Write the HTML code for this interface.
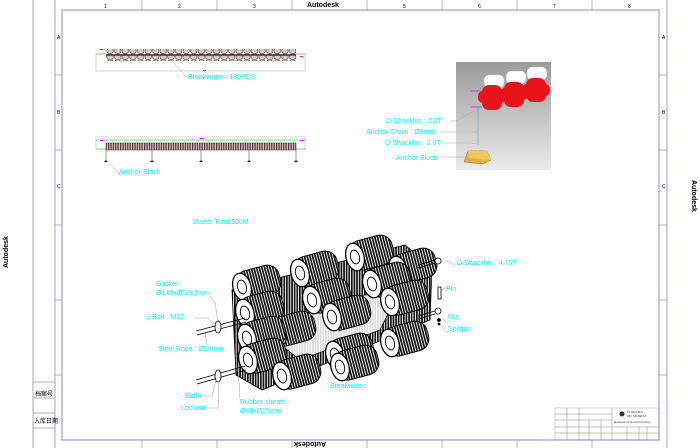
<!DOCTYPE html>
<html><head><meta charset="utf-8"><style>
html,body{margin:0;padding:0;background:#fff;width:700px;height:448px;overflow:hidden}
svg{display:block}
text{font-family:"Liberation Sans","Noto Sans CJK SC",sans-serif}
.c{fill:#10e8f8;font-size:7px}
.t{fill:#000;font-size:5px}
</style></head><body>
<svg width="700" height="448" viewBox="0 0 700 448" xmlns="http://www.w3.org/2000/svg">
<defs>
<pattern id="rib" width="2.6" height="10" patternUnits="userSpaceOnUse">
<rect width="2.6" height="10" fill="#fff"/><rect width="1.7" height="10" fill="#111"/>
</pattern>
<pattern id="rib2" width="7.6" height="12" patternUnits="userSpaceOnUse">
<rect width="7.6" height="12" fill="#fff"/><rect x="0.5" y="0" width="6.5" height="5.5" rx="2.5" fill="#d8c8c8" stroke="#5a3030" stroke-width="0.6"/><rect x="0.5" y="6" width="6.5" height="5.5" rx="2.5" fill="#d8c8c8" stroke="#5a3030" stroke-width="0.6"/>
</pattern>
<pattern id="rib3" width="2.4" height="4" patternUnits="userSpaceOnUse">
<rect width="2.4" height="4" fill="#d8c8c8"/><rect width="1.2" height="4" fill="#5a3030"/>
</pattern>
<linearGradient id="bg" x1="0" y1="0" x2="0" y2="1"><stop offset="0" stop-color="#9a9a9a"/><stop offset="1" stop-color="#ececec"/></linearGradient>
<g id="drum">
<rect x="-5" y="-15" width="44" height="30" rx="12" fill="url(#rib)" stroke="#000" stroke-width="1"/>
<ellipse cx="0" cy="0" rx="9" ry="14" fill="#fff" stroke="#000" stroke-width="1.3"/>
<ellipse cx="0" cy="0" rx="4.5" ry="7" fill="#fff" stroke="#000" stroke-width="0.9"/>
</g>
</defs>
<g fill="none" stroke="#b4b4f2" stroke-width="1.3">
<rect x="33" y="-2" width="634" height="460"/>
<rect x="62" y="10" width="597" height="430" stroke-width="1.6"/>
<line x1="55" y1="-2" x2="55" y2="448"/>
</g>
<g stroke="#999" stroke-width="0.7">
<line x1="142" y1="0" x2="142" y2="10"/><line x1="217" y1="0" x2="217" y2="10"/><line x1="292" y1="0" x2="292" y2="10"/>
<line x1="367" y1="0" x2="367" y2="10"/><line x1="442" y1="0" x2="442" y2="10"/><line x1="517" y1="0" x2="517" y2="10"/><line x1="592" y1="0" x2="592" y2="10"/>
<line x1="142" y1="440" x2="142" y2="448"/><line x1="217" y1="440" x2="217" y2="448"/><line x1="292" y1="440" x2="292" y2="448"/>
<line x1="367" y1="440" x2="367" y2="448"/><line x1="442" y1="440" x2="442" y2="448"/><line x1="517" y1="440" x2="517" y2="448"/><line x1="592" y1="440" x2="592" y2="448"/>
<line x1="55" y1="75" x2="62" y2="75"/><line x1="55" y1="150" x2="62" y2="150"/><line x1="55" y1="225" x2="62" y2="225"/><line x1="55" y1="300" x2="62" y2="300"/><line x1="55" y1="375" x2="62" y2="375"/>
<line x1="659" y1="75" x2="667" y2="75"/><line x1="659" y1="150" x2="667" y2="150"/><line x1="659" y1="225" x2="667" y2="225"/><line x1="659" y1="300" x2="667" y2="300"/><line x1="659" y1="375" x2="667" y2="375"/>
<line x1="33" y1="382" x2="55" y2="382"/><line x1="33" y1="398" x2="55" y2="398"/><line x1="33" y1="413" x2="55" y2="413"/><line x1="33" y1="428" x2="55" y2="428"/>
</g>
<g class="t" font-size="5">
<text x="104" y="8">1</text><text x="178" y="8">2</text><text x="253" y="8">3</text><text x="403" y="8">5</text><text x="478" y="8">6</text><text x="553" y="8">7</text><text x="628" y="8">8</text>
<text x="57" y="39">A</text><text x="57" y="114">B</text><text x="57" y="188">C</text>
<text x="662" y="39">A</text><text x="662" y="114">B</text><text x="662" y="188">C</text>
</g>
<text x="307" y="7" font-size="7" font-weight="bold">Autodesk</text>
<text x="0" y="0" font-size="7" font-weight="bold" transform="translate(326,442) rotate(180)">Autodesk</text>
<text x="0" y="0" font-size="7" font-weight="bold" transform="translate(8,268) rotate(-90)">Autodesk</text>
<text x="0" y="0" font-size="7" font-weight="bold" transform="translate(692,180) rotate(90)">Autodesk</text>
<text x="35" y="396" font-size="6">档案号</text>
<text x="34" y="423" font-size="6">入库日期</text>

<g>
<rect x="96" y="54" width="209" height="17" fill="none" stroke="#bbb" stroke-width="0.6"/>
<line x1="96" y1="54" x2="306" y2="54" stroke="#4d4" stroke-width="0.7"/>
<rect x="106" y="49" width="190" height="12" fill="url(#rib2)"/>
<line x1="106" y1="55" x2="296" y2="55" stroke="#222" stroke-width="1.2"/>
<rect x="100" y="49" width="3" height="1" fill="#f0f"/><rect x="300" y="56" width="3" height="1" fill="#f0f"/><rect x="203" y="70" width="3" height="1" fill="#f0f"/>
<polyline points="175,64 186,77 242,77" fill="none" stroke="#aaa" stroke-width="0.5"/>
<text x="188" y="79" class="c" font-size="5.5">Breakwater : 100PCS</text>
</g>
<g>
<rect x="96" y="137" width="209" height="12" fill="none" stroke="#bbb" stroke-width="0.6"/>
<line x1="96" y1="140" x2="306" y2="140" stroke="#4d4" stroke-width="0.7"/>
<line x1="96" y1="149" x2="306" y2="149" stroke="#4d4" stroke-width="0.7"/>
<rect x="106" y="143" width="190" height="7" fill="url(#rib3)" stroke="#333" stroke-width="0.5"/>
<g stroke="#333" stroke-width="0.5"><line x1="106" y1="150" x2="106" y2="160"/><line x1="152" y1="150" x2="152" y2="160"/><line x1="201" y1="150" x2="201" y2="160"/><line x1="249" y1="150" x2="249" y2="160"/><line x1="296" y1="150" x2="296" y2="160"/></g>
<g fill="#000"><path d="M104,162 l2,-2 l2,2z"/><path d="M150,162 l2,-2 l2,2z"/><path d="M199,162 l2,-2 l2,2z"/><path d="M247,162 l2,-2 l2,2z"/><path d="M294,162 l2,-2 l2,2z"/></g>
<rect x="200" y="138" width="3" height="1" fill="#f0f"/><rect x="100" y="140" width="3" height="1" fill="#f0f"/><rect x="300" y="140" width="3" height="1" fill="#f0f"/>
<polyline points="110,164 120,175 150,175" fill="none" stroke="#aaa" stroke-width="0.5"/>
<text x="119" y="174" class="c" font-size="5">Anchor Block</text>
</g>

<rect x="456" y="62" width="95" height="108" fill="url(#bg)"/>
<g fill="#fff" stroke="#bbb" stroke-width="0.5">
<rect x="484" y="75" width="20" height="13" rx="5"/><rect x="506" y="71" width="20" height="13" rx="5"/><rect x="527" y="67" width="20" height="13" rx="5"/>
</g>
<g fill="#e8141c">
<rect x="482" y="85" width="20" height="25" rx="7"/><rect x="478" y="91" width="28" height="12" rx="5"/>
<rect x="504" y="82" width="20" height="25" rx="7"/><rect x="500" y="88" width="28" height="12" rx="5"/>
<rect x="526" y="78" width="20" height="24" rx="7"/><rect x="522" y="84" width="28" height="12" rx="5"/>
</g>
<g stroke="#d040d0" stroke-width="1"><line x1="470" y1="91" x2="482" y2="91"/><line x1="470" y1="107" x2="482" y2="107"/></g>
<line x1="478" y1="107" x2="478" y2="145" stroke="#8ab" stroke-width="0.8"/>
<polygon points="468,151 487,151 491,160 483,164 464,162" fill="#e0b040" stroke="#a07010" stroke-width="0.5"/>
<polygon points="468,151 487,151 491,160 469,158" fill="#f0c858"/>
<g stroke="#aaa" stroke-width="0.5" fill="none">
<polyline points="450,121 456,121 476,110"/><line x1="440" y1="132" x2="478" y2="132"/><polyline points="440,143 470,143 476,144"/><line x1="440" y1="157" x2="466" y2="157"/>
</g>
<g class="c" font-size="6.5">
<text x="386" y="123">D-Shackles : 2.0T</text>
<text x="366" y="134">Anchor  Chain : Ø8mm</text>
<text x="385" y="145">D-Shackles : 2.0T</text>
<text x="396" y="160">Anchor Block</text>
</g>

<text x="192" y="224" class="c" font-size="5.5">15sets   Total:300M</text>

<g>
<polygon points="232,290 405,245 432,268 430,320 262,390 236,375" fill="url(#rib)" stroke="#000" stroke-width="0.8"/>
<polygon points="262,330 330,300 400,290 380,330 300,360" fill="#fff" stroke="#000" stroke-width="0.8" opacity="0.85"/>
<use href="#drum" x="355" y="257" transform="rotate(-15 355 257)"/>
<use href="#drum" x="300" y="273" transform="rotate(-15 300 273)"/>
<use href="#drum" x="398" y="270" transform="rotate(-15 398 270)"/>
<use href="#drum" x="242" y="287" transform="rotate(-15 242 287)"/>
<use href="#drum" x="372" y="284" transform="rotate(-15 372 284)"/>
<use href="#drum" x="312" y="300" transform="rotate(-15 312 300)"/>
<use href="#drum" x="390" y="302" transform="rotate(-15 390 302)"/>
<use href="#drum" x="245" y="313" transform="rotate(-15 245 313)"/>
<use href="#drum" x="332" y="317" transform="rotate(-15 332 317)"/>
<use href="#drum" x="277" y="333" transform="rotate(-15 277 333)"/>
<use href="#drum" x="390" y="343" transform="rotate(-15 390 343)"/>
<use href="#drum" x="247" y="338" transform="rotate(-15 247 338)"/>
<use href="#drum" x="335" y="355" transform="rotate(-15 335 355)"/>
<use href="#drum" x="248" y="360" transform="rotate(-15 248 360)"/>
<use href="#drum" x="340" y="367" transform="rotate(-15 340 367)"/>
<use href="#drum" x="282" y="376" transform="rotate(-15 282 376)"/>
</g>
<g stroke="#000" stroke-width="0.8" fill="#fff">
<line x1="196" y1="331" x2="245" y2="318"/><line x1="197" y1="335" x2="246" y2="322"/>
<line x1="196" y1="380" x2="245" y2="366"/><line x1="197" y1="384" x2="246" y2="370"/>
<ellipse cx="218" cy="327" rx="3" ry="6"/><ellipse cx="218" cy="376" rx="3" ry="6"/>
<line x1="418" y1="265" x2="435" y2="260"/><line x1="418" y1="268" x2="435" y2="263"/>
<line x1="418" y1="316" x2="435" y2="311"/><line x1="418" y1="319" x2="435" y2="314"/>
<circle cx="438" cy="261" r="3"/><circle cx="438" cy="311" r="3"/>
<rect x="438" y="287" width="3" height="12"/>
<circle cx="439" cy="320" r="1.5" fill="#000"/><circle cx="439" cy="324" r="1" fill="#000"/>
</g>
<g stroke="#999" stroke-width="0.5" fill="none">
<polyline points="445,260 452,264 480,264"/><polyline points="442,290 445,288 450,288"/>
<polyline points="442,318 446,322 450,322"/><polyline points="440,325 447,332 453,332"/>
<polyline points="210,296 215,302 218,322"/><polyline points="195,318 208,318 214,326"/>
<polyline points="205,333 207,345"/><polyline points="203,396 212,396 216,380"/>
<polyline points="203,408 218,408 219,382"/><polyline points="238,368 240,398"/>
</g>
<g class="c" font-size="6.5">
<text x="457" y="265">D-Shackles : 4.75T</text>
<text x="446" y="291">Pin</text>
<text x="448" y="319">Nut</text>
<text x="448" y="331">Splitpin</text>
<text x="156" y="286">Gasket :</text>
<text x="156" y="295">Ø140xØ50x3mm</text>
<text x="145" y="319">U-Bolt : M12</text>
<text x="158" y="351">Steel  Rope : Ø20mm</text>
<text x="185" y="398">Baffle</text>
<text x="181" y="410">Locknut</text>
<text x="240" y="404">Rubber sheath :</text>
<text x="240" y="413">Ø45xØ25mm</text>
<text x="330" y="388">Breakwater</text>
</g>

<g fill="none" stroke="#888" stroke-width="0.5">
<rect x="555" y="408" width="104" height="32" stroke="#c99"/>
<line x1="555" y1="414" x2="612" y2="414"/><line x1="555" y1="420" x2="612" y2="420"/><line x1="555" y1="427" x2="659" y2="427"/><line x1="555" y1="433" x2="659" y2="433"/>
<line x1="567" y1="408" x2="567" y2="440"/><line x1="579" y1="408" x2="579" y2="440"/><line x1="589" y1="420" x2="589" y2="440"/><line x1="601" y1="420" x2="601" y2="440"/><line x1="612" y1="408" x2="612" y2="440"/>
<line x1="627" y1="427" x2="627" y2="440"/><line x1="639" y1="427" x2="639" y2="440"/><line x1="647" y1="427" x2="647" y2="440"/>
</g>
<circle cx="622" cy="414" r="2.5" fill="#333"/>
<g fill="#444" font-size="2.5"><text x="627" y="413">XX ABCDEFG</text><text x="627" y="417">ABC ABCDEFGH</text><text x="614" y="423">Breakwater Engineering Drawing</text></g>
</svg>
</body></html>
